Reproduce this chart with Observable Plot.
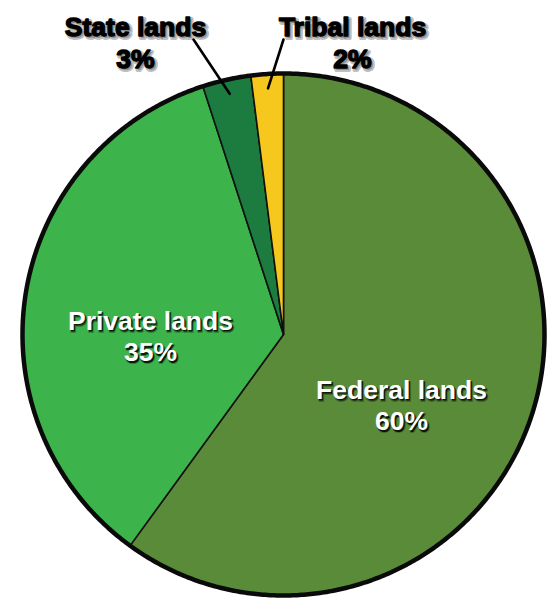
<!DOCTYPE html>
<html>
<head>
<meta charset="utf-8">
<script src="https://cdn.jsdelivr.net/npm/d3@7"></script>
<script src="https://cdn.jsdelivr.net/npm/@observablehq/plot@0.6"></script>
<style>
  html, body { margin: 0; padding: 0; background: #fff; }
  #chart svg { display: block; }
</style>
</head>
<body>
<div id="chart"></div>
<script>
// ---- data ----
const categories = ["Federal lands", "Private lands", "State lands", "Tribal lands"];
const shares = [60, 35, 3, 2];
const pctLabels = ["60%", "35%", "3%", "2%"];
const colors = ["#5a8b38", "#3db34b", "#1c7b3e", "#f6c81e"];

// ---- layout (pixels) ----
const W = 555, H = 598;
const CX = 283, CY = 334, R = 261;
const toX = px => (px - CX) / R;
const toY = py => (CY - py) / R;
const labelLayout = {
  "Federal lands": [401, 404],
  "Private lands": [150, 335],
  "State lands": [135, 41],
  "Tribal lands": [352, 41]
};
const leaderStart = {
  "State lands": [193, 39],
  "Tribal lands": [283, 39]
};

// ---- geometry from data ----
const rows = categories.map((c, i) => ({category: c, share: shares[i], pct: pctLabels[i]}));
const arcs = d3.pie().sort(null).value(d => d.share)(rows);

const slicePts = [];
for (const a of arcs) {
  slicePts.push({category: a.data.category, x: 0, y: 0});
  const n = Math.max(4, Math.ceil((a.endAngle - a.startAngle) / (Math.PI / 360)));
  for (let k = 0; k <= n; k++) {
    const t = a.startAngle + (a.endAngle - a.startAngle) * k / n;
    slicePts.push({category: a.data.category, x: Math.sin(t), y: Math.cos(t)});
  }
}
const ringPts = d3.range(0, 721).map(k => {
  const t = k / 720 * 2 * Math.PI;
  return {x: Math.sin(t), y: Math.cos(t)};
});

const inner = arcs.filter(a => a.data.share >= 10);
const outer = arcs.filter(a => a.data.share < 10);

const innerLabels = inner.map(a => {
  const p = labelLayout[a.data.category];
  return {x: toX(p[0]), y: toY(p[1]), text: a.data.category + "\n" + a.data.pct};
});
const outerLabels = outer.map(a => {
  const p = labelLayout[a.data.category];
  return {x: toX(p[0]), y: toY(p[1]), text: a.data.category + "\n" + a.data.pct};
});
const leaders = outer.map(a => {
  const s = leaderStart[a.data.category];
  const m = (a.startAngle + a.endAngle) / 2;
  return {x1: toX(s[0]), y1: toY(s[1]), x2: 0.945 * Math.sin(m), y2: 0.945 * Math.cos(m)};
});

const font = "Liberation Sans, Arial, sans-serif";
const textCommon = {x: "x", y: "y", text: "text", fontSize: 26.5, fontWeight: "bold", fontFamily: font, lineAnchor: "middle"};

const chart = Plot.plot({
  width: W,
  height: H,
  marginLeft: CX - R,
  marginRight: W - (CX + R),
  marginTop: CY - R,
  marginBottom: H - (CY + R),
  x: {domain: [-1, 1], axis: null},
  y: {domain: [-1, 1], axis: null},
  color: {domain: categories, range: colors},
  style: {background: "#fff", overflow: "visible"},
  marks: [
    Plot.line(slicePts, {
      x: "x", y: "y", z: "category", fill: "category",
      stroke: "#111", strokeWidth: 1.6, strokeLinejoin: "round",
      curve: "linear-closed"
    }),
    Plot.line(ringPts, {
      x: "x", y: "y", stroke: "#0a0a0a", strokeWidth: 4.5, fill: "none",
      curve: "linear-closed"
    }),
    Plot.link(leaders, {
      x1: "x1", y1: "y1", x2: "x2", y2: "y2",
      stroke: "#000", strokeWidth: 2.6, strokeLinecap: "round"
    }),
    // white label shadows
    Plot.text(innerLabels, {...textCommon, lineHeight: 1.18, fill: "#000", fillOpacity: 0.45,
      stroke: "#000", strokeOpacity: 0.25, strokeWidth: 2, dx: 1.5, dy: 2}),
    Plot.text(innerLabels, {...textCommon, lineHeight: 1.18, fill: "#000", fillOpacity: 0.7, dx: 1.2, dy: 1.5}),
    Plot.text(innerLabels, {...textCommon, lineHeight: 1.18, fill: "#fff"}),
    // black label shadows
    Plot.text(outerLabels, {...textCommon, lineHeight: 1.2, fill: "#000", fillOpacity: 0.25,
      stroke: "#000", strokeOpacity: 0.25, strokeWidth: 4, dx: 2, dy: 2}),
    Plot.text(outerLabels, {...textCommon, lineHeight: 1.2, fill: "#000", stroke: "#000", strokeWidth: 1.4})
  ]
});

document.getElementById("chart").append(chart);
</script>
</body>
</html>
